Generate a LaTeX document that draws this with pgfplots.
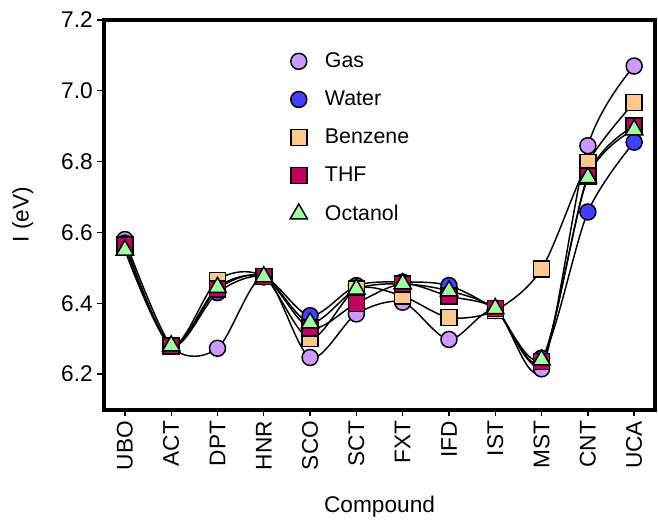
\documentclass[border=0pt]{standalone}
\usepackage{pgfplots}
\pgfplotsset{compat=1.18}
\usepackage{fontspec}
\setmainfont{Liberation Sans}
\definecolor{cgas}{RGB}{204,153,255}
\definecolor{cwater}{RGB}{64,64,255}
\definecolor{cbenz}{RGB}{255,200,140}
\definecolor{cthf}{RGB}{192,0,96}
\definecolor{coct}{RGB}{160,255,160}
\begin{document}
\begin{tikzpicture}
\begin{axis}[
 scale only axis, width=413pt, height=292pt,
 xmin=-0.45, xmax=11.45, ymin=6.1, ymax=7.2,
 xtick={0,1,2,3,4,5,6,7,8,9,10,11},
 xticklabels={UBO,ACT,DPT,HNR,SCO,SCT,FXT,IFD,IST,MST,CNT,UCA},
 x tick label style={rotate=90, anchor=east},
 ytick={6.2,6.4,6.6,6.8,7.0,7.2},
 yticklabel style={/pgf/number format/.cd, fixed, fixed zerofill, precision=1},
 /pgf/number format/assume math mode=true,
 tick align=outside, xtick pos=bottom, ytick pos=left,
 axis line style={line width=3pt},
 major tick length=5pt, tick style={line width=1pt, black},
 font=\fontsize{17}{20}\selectfont,
 xlabel={Compound}, ylabel={I (eV)},
 xlabel style={yshift=-13pt},
 ylabel style={yshift=14pt},
 legend style={draw=none, fill=none, at={(rel axis cs:0.33,0.93)}, anchor=north west, row sep=12pt, font=\fontsize{16}{19}\selectfont},
 legend cell align=left,
 legend image code/.code={\draw[#1, sharp plot] plot coordinates {(0.25cm,0cm)} (0.85cm,0cm);},
]
\addplot[black, line width=1.1pt, smooth, mark=*, mark size=6pt, mark options={fill=cgas, draw=black, line width=1.1pt}] table {
x y
0 6.58
1 6.28
2 6.273
3 6.475
4 6.247
5 6.37
6 6.403
7 6.298
8 6.38
9 6.215
10 6.845
11 7.07
};
\addlegendentry{Gas}
\addplot[black, line width=1.1pt, smooth, mark=*, mark size=6pt, mark options={fill=cwater, draw=black, line width=1.1pt}] table {
x y
0 6.57
1 6.28
2 6.43
3 6.475
4 6.365
5 6.45
6 6.46
7 6.45
8 6.38
9 6.245
10 6.658
11 6.855
};
\addlegendentry{Water}
\addplot[black, line width=1.1pt, smooth, mark=square*, mark size=6pt, mark options={fill=cbenz, draw=black, line width=1.1pt}] table {
x y
0 6.565
1 6.28
2 6.465
3 6.475
4 6.30
5 6.44
6 6.42
7 6.36
8 6.38
9 6.497
10 6.797
11 6.967
};
\addlegendentry{Benzene}
\addplot[black, line width=1.1pt, smooth, mark=square*, mark size=6pt, mark options={fill=cthf, draw=black, line width=1.1pt}] table {
x y
0 6.565
1 6.28
2 6.44
3 6.475
4 6.33
5 6.40
6 6.455
7 6.42
8 6.385
9 6.235
10 6.76
11 6.90
};
\addlegendentry{THF}
\addplot[black, line width=1.1pt, smooth, mark=triangle*, mark size=7.5pt, mark options={fill=coct, draw=black, line width=1.1pt}] table {
x y
0 6.55
1 6.28
2 6.445
3 6.475
4 6.345
5 6.44
6 6.455
7 6.435
8 6.385
9 6.24
10 6.755
11 6.89
};
\addlegendentry{Octanol}
\end{axis}
\path ([shift={(-78pt,-82.5pt)}]current axis.south west) rectangle ([shift={(2.25pt,15pt)}]current axis.north east);
\end{tikzpicture}
\end{document}
